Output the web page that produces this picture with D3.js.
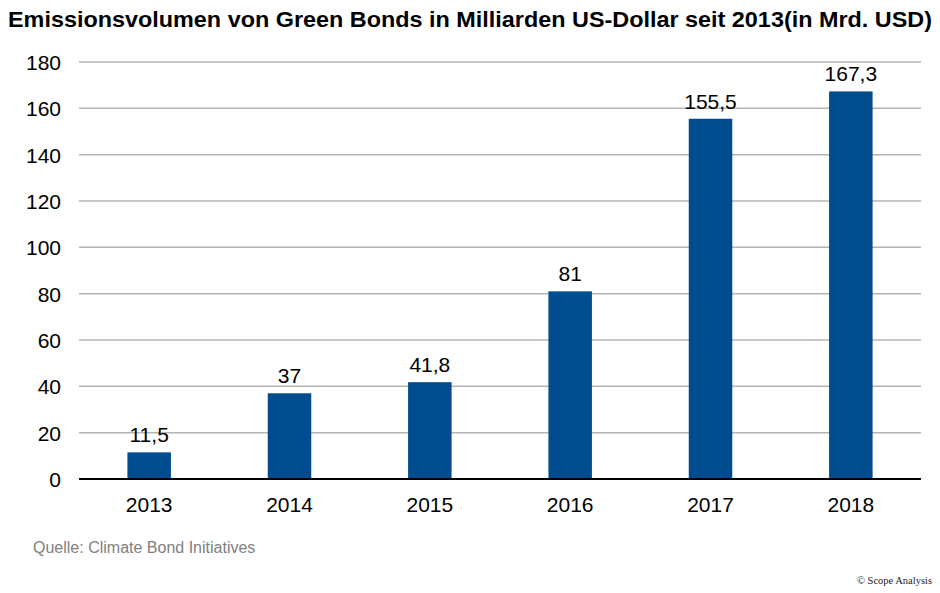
<!DOCTYPE html>
<html>
<head>
<meta charset="utf-8">
<script src="https://cdn.jsdelivr.net/npm/d3@7"></script>
<style>
  html, body { margin: 0; padding: 0; background: #fff; }
  svg { display: block; }
</style>
</head>
<body>
<script>
var years  = ["2013", "2014", "2015", "2016", "2017", "2018"];
var values = [11.5, 37, 41.8, 81, 155.5, 167.3];
var yTicks = [0, 20, 40, 60, 80, 100, 120, 140, 160, 180];

var width = 940, height = 593;
var plotLeft = 79, plotRight = 921, plotTop = 62, plotBottom = 479;

var svg = d3.select("body")
    .append("svg")
    .attr("width", width).attr("height", height);

var x = d3.scaleBand()
    .domain(years)
    .range([plotLeft, plotRight])
    .paddingInner(0.69)
    .paddingOuter(0.345);

var y = d3.scaleLinear()
    .domain([0, 180])
    .range([plotBottom, plotTop]);

var font = "'Liberation Sans', Arial, Helvetica, sans-serif";

// title
svg.append("text")
    .attr("x", 8)
    .attr("y", 27)
    .attr("font-family", "'Liberation Sans Narrow', 'Arial Narrow', 'Liberation Sans', sans-serif")
    .attr("font-weight", "bold")
    .attr("font-size", 22.5)
    .attr("textLength", 924)
    .attr("lengthAdjust", "spacingAndGlyphs")
    .text("Emissionsvolumen von Green Bonds in Milliarden US-Dollar seit 2013(in Mrd. USD)");

// gridlines
svg.append("g")
  .selectAll("line")
  .data(yTicks.filter(function (d) { return d > 0; }))
  .enter().append("line")
    .attr("x1", plotLeft).attr("x2", plotRight)
    .attr("y1", function (d) { return y(d); })
    .attr("y2", function (d) { return y(d); })
    .attr("stroke", "#b4b4b4")
    .attr("stroke-width", 1.5);

// y axis labels
var yAxis = svg.append("g")
    .attr("transform", "translate(" + plotLeft + ",0)")
    .call(d3.axisLeft(y).tickValues(yTicks).tickSize(0).tickPadding(18));
yAxis.select(".domain").remove();
yAxis.selectAll("text")
    .attr("font-family", font)
    .attr("font-size", 21)
    .attr("fill", "#000")
    .attr("dy", "0.36em");

// bars
svg.append("g")
  .selectAll("rect")
  .data(values)
  .enter().append("rect")
    .attr("x", function (d, i) { return x(years[i]); })
    .attr("y", function (d) { return y(d); })
    .attr("width", x.bandwidth())
    .attr("height", function (d) { return y(0) - y(d); })
    .attr("fill", "#004c8e");

// value labels
svg.append("g")
  .selectAll("text")
  .data(values)
  .enter().append("text")
    .attr("x", function (d, i) { return x(years[i]) + x.bandwidth() / 2; })
    .attr("y", function (d) { return y(d) - 10; })
    .attr("text-anchor", "middle")
    .attr("font-family", font)
    .attr("font-size", 21)
    .text(function (d) { return String(d).replace(".", ","); });

// x axis
var xAxis = svg.append("g")
    .attr("transform", "translate(0," + plotBottom + ")")
    .call(d3.axisBottom(x).tickSize(0).tickPadding(14));
xAxis.select(".domain")
    .attr("d", "M" + plotLeft + ",0H" + plotRight)
    .attr("stroke", "#000")
    .attr("stroke-width", 2);
xAxis.selectAll("text")
    .attr("font-family", font)
    .attr("font-size", 21)
    .attr("fill", "#000")
    .attr("dy", "0.9em");

// source
svg.append("text")
    .attr("x", 33)
    .attr("y", 553)
    .attr("font-family", font)
    .attr("font-size", 16)
    .attr("fill", "#808080")
    .text("Quelle: Climate Bond Initiatives");

svg.append("text")
    .attr("x", 932)
    .attr("y", 584)
    .attr("text-anchor", "end")
    .attr("font-family", "'Liberation Serif', 'DejaVu Serif', serif")
    .attr("font-size", 10.5)
    .attr("fill", "#222")
    .text("\u00a9 Scope Analysis");
</script>
</body>
</html>
